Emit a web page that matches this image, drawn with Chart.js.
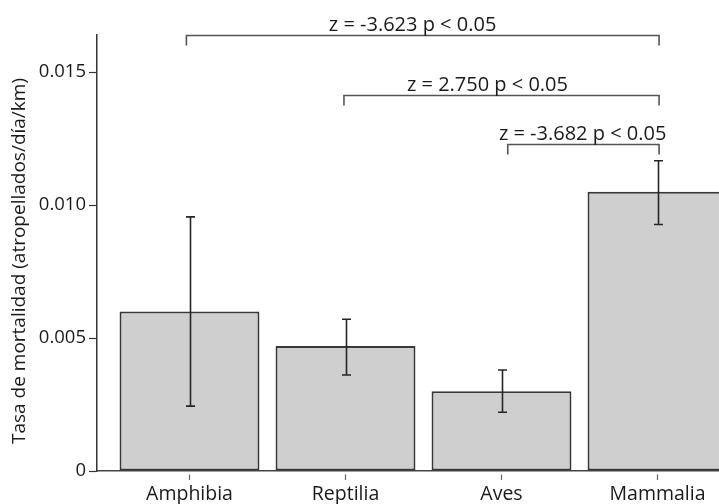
<!DOCTYPE html>
<html>
<head>
<meta charset="utf-8">
<script src="https://cdn.jsdelivr.net/npm/chart.js@4.4.1/dist/chart.umd.min.js"></script>
<style>
html, body { margin: 0; padding: 0; background: #fff; overflow: hidden; }
#wrap { position: relative; width: 760px; height: 504px; }
</style>
</head>
<body>
<div id="wrap"><canvas id="chartCanvas"></canvas></div>
<script>
var categories = ['Amphibia', 'Reptilia', 'Aves', 'Mammalia'];
var rates = [0.0060, 0.0047, 0.0030, 0.0105];
var errUpper = [0.00956, 0.00571, 0.0038, 0.01167];
var errLower = [0.00244, 0.00361, 0.00221, 0.00927];
var yTickValues = [0, 0.005, 0.010, 0.015];
var yTitle = 'Tasa de mortalidad (atropellados/día/km)';

// pairwise comparisons (x in category units, level in y units)
var compLabels = ['z = -3.623 p < 0.05', 'z = 2.750 p < 0.05', 'z = -3.682 p < 0.05'];
var compFrom = [-0.02, 0.99, 2.04];
var compTo = [3.01, 3.01, 3.01];
var compLevel = [0.0164, 0.01415, 0.01229];
var compLabelX = [1.43, 1.91, 2.52];

Chart.defaults.font.family = "'Open Sans', sans-serif";
Chart.defaults.color = '#222';

var overlay = {
    id: 'overlay',
    afterDatasetsDraw: function(chart) {
        var ctx = chart.ctx;
        var xs = chart.scales.x;
        var ys = chart.scales.y;
        var area = chart.chartArea;
        ctx.save();

        // error bars
        ctx.strokeStyle = '#262626';
        ctx.lineWidth = 1.6;
        for (var i = 0; i < categories.length; i++) {
            var px = Math.round(xs.getPixelForValue(i)) + 0.5;
            var top = ys.getPixelForValue(errUpper[i]);
            var bot = ys.getPixelForValue(errLower[i]);
            ctx.beginPath();
            ctx.moveTo(px, top);
            ctx.lineTo(px, bot);
            ctx.moveTo(px - 4.5, top);
            ctx.lineTo(px + 4.5, top);
            ctx.moveTo(px - 4.5, bot);
            ctx.lineTo(px + 4.5, bot);
            ctx.stroke();
        }

        // comparison brackets
        ctx.strokeStyle = '#555';
        ctx.lineWidth = 1.6;
        ctx.fillStyle = '#1a1a1a';
        ctx.font = "20px 'Open Sans', sans-serif";
        ctx.textAlign = 'center';
        ctx.textBaseline = 'alphabetic';
        for (var j = 0; j < compLabels.length; j++) {
            var x1 = xs.getPixelForValue(compFrom[j]);
            var x2 = xs.getPixelForValue(compTo[j]);
            var yl = Math.round(ys.getPixelForValue(compLevel[j])) + 0.5;
            ctx.beginPath();
            ctx.moveTo(x1, yl + 10);
            ctx.lineTo(x1, yl);
            ctx.lineTo(x2, yl);
            ctx.lineTo(x2, yl + 10);
            ctx.stroke();
            ctx.fillText(compLabels[j], xs.getPixelForValue(compLabelX[j]), yl - 5);
        }

        // y axis title, sits a little below the plot's middle
        ctx.translate(20, (area.top + area.bottom) / 2 + 8);
        ctx.rotate(-Math.PI / 2);
        ctx.font = "19px 'Open Sans', sans-serif";
        ctx.textBaseline = 'middle';
        ctx.fillText(yTitle, 0, 0);
        ctx.restore();
    }
};

var ctx = document.getElementById('chartCanvas');
var myChart = new Chart(ctx, {
    type: 'bar',
    data: {
        datasets: [{
            data: rates.map(function(v, i) { return {x: i, y: v}; }),
            backgroundColor: '#cfcfcf',
            borderColor: '#383838',
            // last bar runs off the right edge, so no right-hand outline
            borderWidth: function(c) {
                if (c.dataIndex === categories.length - 1) {
                    return {top: 2, left: 2, bottom: 2, right: 0};
                }
                return 2;
            },
            borderSkipped: false,
            barPercentage: 0.897,
            categoryPercentage: 1.0
        }]
    },
    options: {
        responsive: true,
        maintainAspectRatio: false,
        animation: false,
        layout: { padding: { top: 35, left: 0, right: 0, bottom: 0 } },
        plugins: {
            legend: { display: false },
            tooltip: { enabled: false }
        },
        scales: {
            x: {
                type: 'linear',
                min: -0.593,
                max: 3.657,
                bounds: 'data',
                offset: false,
                afterBuildTicks: function(scale) {
                    scale.ticks = categories.map(function(c, i) { return {value: i}; });
                },
                afterFit: function(scale) { scale.height = 33; },
                grid: {
                    offset: false,
                    drawOnChartArea: false,
                    drawTicks: true,
                    tickLength: 9,
                    tickColor: '#666',
                    tickWidth: 1.2,
                    tickBorderDash: [0, 3, 6, 20]
                },
                border: { display: true, color: '#444', width: 1.5 },
                ticks: {
                    autoSkip: false,
                    maxRotation: 0,
                    padding: 3,
                    color: '#1a1a1a',
                    font: { size: 19.5 },
                    callback: function(value) { return categories[Math.round(value)]; }
                }
            },
            y: {
                min: 0,
                max: 0.0164,
                bounds: 'data',
                afterBuildTicks: function(scale) {
                    scale.ticks = yTickValues.map(function(v) { return {value: v}; });
                },
                afterFit: function(scale) { scale.width = 97; },
                grid: {
                    drawOnChartArea: false,
                    drawTicks: true,
                    tickLength: 8,
                    tickColor: '#333',
                    tickWidth: 1.2
                },
                border: { display: true, color: '#333', width: 1.5 },
                ticks: {
                    padding: 3,
                    color: '#1a1a1a',
                    font: { size: 18.5 },
                    callback: function(value) { return value === 0 ? '0' : value.toFixed(3); }
                }
            }
        }
    },
    plugins: [overlay]
});
</script>
</body>
</html>
